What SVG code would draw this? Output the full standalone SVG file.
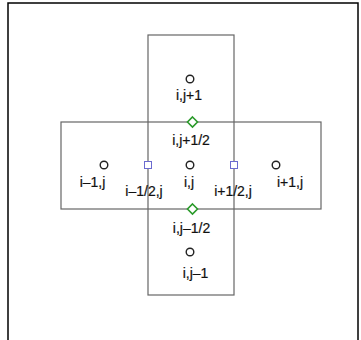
<svg xmlns="http://www.w3.org/2000/svg" width="361" height="340" viewBox="0 0 361 340">
<defs>
<style>
.cell{fill:none;stroke:#666;stroke-width:1.2}
.pt{fill:#fff;stroke:#222;stroke-width:1.4}
.dia{fill:#fff;stroke:#2a9a2a;stroke-width:1.6}
.sq{fill:#fff;stroke:#6b6bd0;stroke-width:1}
text{font-family:"Liberation Sans",Arial,sans-serif;font-size:14px;fill:#111;stroke:#111;stroke-width:0.2;text-anchor:middle}
</style>
</defs>
<rect width="361" height="340" fill="#fff"/>
<rect x="8" y="3" width="350" height="345" fill="none" stroke="#000" stroke-width="1.5"/>
<g id="connectors">
<rect class="cell" x="148" y="35" width="86" height="260"/>
<rect class="cell" x="61" y="122" width="260" height="87"/>
</g>
<g id="n_ij1"><circle class="pt" cx="190" cy="79" r="3.8"/><text x="189" y="100">i,j+1</text></g>
<g id="n_ij"><circle class="pt" cx="190" cy="165" r="3.8"/><text x="189" y="187">i,j</text></g>
<g id="n_im1j"><circle class="pt" cx="104" cy="165" r="3.8"/><text x="92.5" y="187">i–1,j</text></g>
<g id="n_ip1j"><circle class="pt" cx="276" cy="165" r="3.8"/><text x="290" y="187">i+1,j</text></g>
<g id="n_ijm1"><circle class="pt" cx="190" cy="252" r="3.8"/><text x="195.5" y="278">i,j–1</text></g>
<g id="n_ijph"><path class="dia" d="M192.5 117 L197.5 122 L192.5 127 L187.5 122 Z"/><text x="191" y="145">i,j+1/2</text></g>
<g id="n_ijmh"><path class="dia" d="M192.5 204 L197.5 209 L192.5 214 L187.5 209 Z"/><text x="191.5" y="233">i,j–1/2</text></g>
<g id="n_imhj"><rect class="sq" x="144.5" y="161.5" width="7" height="7"/><text x="144" y="196">i–1/2,j</text></g>
<g id="n_iphj"><rect class="sq" x="230.5" y="161.5" width="7" height="7"/><text x="233" y="196">i+1/2,j</text></g>
</svg>
